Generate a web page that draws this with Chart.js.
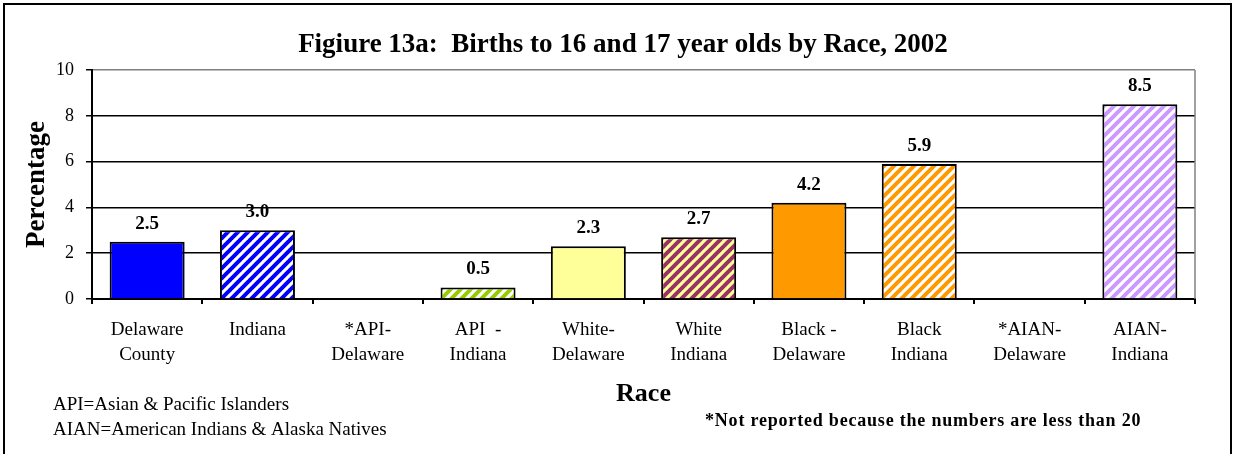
<!DOCTYPE html>
<html>
<head>
<meta charset="utf-8">
<script src="https://cdn.jsdelivr.net/npm/chart.js@4"></script>
<style>
  html, body { margin: 0; padding: 0; background: #fff; }
  #wrap { position: relative; width: 1236px; height: 454px; }
</style>
</head>
<body>
<div id="wrap"><canvas id="raceChart" width="1236" height="454"></canvas></div>
<script>
const categories = [
    ["Delaware", "County"], ["Indiana"], ["*API-", "Delaware"], ["API  -", "Indiana"],
    ["White-", "Delaware"], ["White", "Indiana"], ["Black -", "Delaware"], ["Black", "Indiana"],
    ["*AIAN-", "Delaware"], ["AIAN-", "Indiana"]
];
const percentages = [2.5, 3.0, null, 0.5, 2.3, 2.7, 4.2, 5.9, null, 8.5];
const yMin = 0;
const yMax = 10;
const yStep = 2;
const chartTitle = "Figiure 13a:  Births to 16 and 17 year olds by Race, 2002";
const xTitle = "Race";
const yTitle = "Percentage";
const abbrevNotes = ["API=Asian & Pacific Islanders", "AIAN=American Indians & Alaska Natives"];
const starNote = "*Not reported because the numbers are less than 20";

const SERIF = "'Liberation Serif', 'Times New Roman', serif";

// fill for each bar: solid colour, or [stripe colour, background colour]
const barFills = [
    "#0000ff", ["#0000ff", "#ffffff"], "#ffffff", ["#99cc00", "#ffffff"],
    "#ffff99", ["#993366", "#ffff99"], "#ff9900", ["#ff9900", "#ffffff"],
    "#ffffff", ["#cc99ff", "#ffffff"]
];

function stripes(fg, bg) {
    const s = 10;
    const c = document.createElement("canvas");
    c.width = s; c.height = s;
    const g = c.getContext("2d");
    g.fillStyle = bg;
    g.fillRect(0, 0, s, s);
    g.strokeStyle = fg;
    g.lineWidth = 4;
    g.beginPath();
    for (const k of [0, s, 2 * s]) {
        g.moveTo(k + 1, -1);
        g.lineTo(k - s - 1, s + 1);
    }
    g.stroke();
    return g.createPattern(c, "repeat");
}

const ctx = document.getElementById("raceChart").getContext("2d");
const fills = barFills.map(f => Array.isArray(f) ? stripes(f[0], f[1]) : f);

const decorations = {
    id: "decorations",
    beforeDraw(chart) {
        const g = chart.ctx;
        g.save();
        g.fillStyle = "#fff";
        g.fillRect(0, 0, chart.width, chart.height);
        g.restore();
    },
    afterDraw(chart) {
        const g = chart.ctx;
        const area = chart.chartArea;
        g.save();
        // gray right edge of plot
        g.strokeStyle = "#808080";
        g.lineWidth = 1.5;
        g.beginPath();
        g.moveTo(area.right, area.top);
        g.lineTo(area.right, area.bottom);
        g.stroke();
        // outer frame
        g.strokeStyle = "#000";
        g.lineWidth = 2;
        g.strokeRect(4, 4, 1227, 470);

        g.fillStyle = "#000";
        g.textAlign = "center";
        g.textBaseline = "middle";

        // title
        g.font = "bold 27px " + SERIF;
        g.fillText(chartTitle, 623, 45);

        // value labels
        g.font = "bold 19px " + SERIF;
        chart.getDatasetMeta(0).data.forEach((bar, i) => {
            const v = percentages[i];
            if (v === null) return;
            g.fillText(v.toFixed(1), bar.x, bar.y - 18);
        });

        // notes
        g.textAlign = "left";
        g.font = "19px " + SERIF;
        g.fillText(abbrevNotes[0], 53, 405);
        g.fillText(abbrevNotes[1], 53, 430);
        g.font = "bold 18px " + SERIF;
        g.letterSpacing = "0.8px";
        g.fillText(starNote, 705, 421);
        g.restore();
    }
};

new Chart(ctx, {
    type: "bar",
    data: {
        labels: categories,
        datasets: [{
            data: percentages,
            backgroundColor: fills,
            borderColor: "#000",
            borderWidth: 2,
            barPercentage: 0.68,
            categoryPercentage: 1
        }]
    },
    options: {
        responsive: false,
        animation: false,
        devicePixelRatio: 1,
        layout: { padding: { left: 0, top: 70, right: 41, bottom: 35 } },
        plugins: {
            legend: { display: false },
            tooltip: { enabled: false },
            title: { display: false }
        },
        scales: {
            x: {
                afterFit: s => { s.height = 120; },
                grid: {
                    display: true,
                    drawOnChartArea: false,
                    drawTicks: true,
                    tickLength: 5,
                    color: "#000",
                    lineWidth: 2
                },
                border: { color: "#000", width: 2 },
                ticks: {
                    autoSkip: false,
                    maxRotation: 0,
                    minRotation: 0,
                    padding: 14,
                    color: "#000",
                    font: { family: SERIF, size: 19, lineHeight: 1.3 }
                },
                title: {
                    display: true,
                    text: xTitle,
                    color: "#000",
                    font: { family: SERIF, size: 26, weight: "bold", lineHeight: 1.2 },
                    padding: { top: 0, bottom: 9 }
                }
            },
            y: {
                min: yMin,
                max: yMax,
                afterFit: s => { s.width = 92; },
                grid: {
                    color: c => c.tick && c.tick.value === yMax ? "#808080" : "#000",
                    tickColor: "#000",
                    lineWidth: 1.5,
                    tickLength: 6
                },
                border: { color: "#000", width: 2 },
                ticks: {
                    stepSize: yStep,
                    padding: 12,
                    color: "#000",
                    font: { family: SERIF, size: 18 }
                },
                title: {
                    display: true,
                    text: yTitle,
                    color: "#000",
                    font: { family: SERIF, size: 27, weight: "bold", lineHeight: 1.2 },
                    padding: { top: 21, bottom: 0 }
                }
            }
        }
    },
    plugins: [decorations]
});
</script>
</body>
</html>
